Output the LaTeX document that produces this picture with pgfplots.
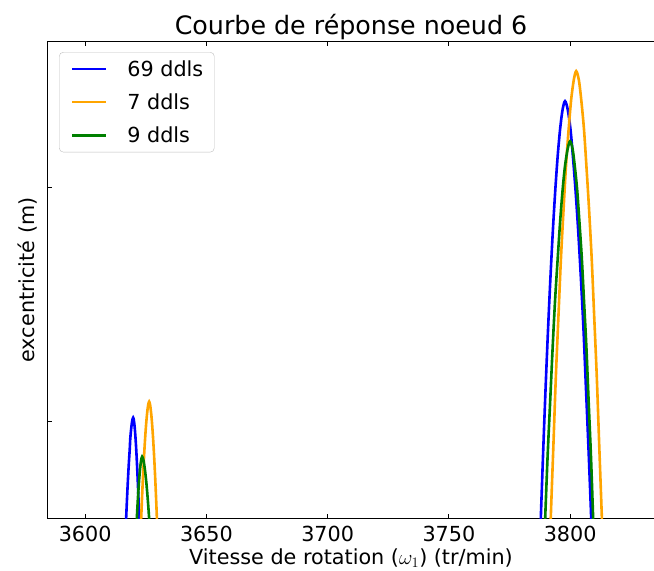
\documentclass[border=0pt]{standalone}
\usepackage{fontspec}
\setmainfont{DejaVu Sans}
\usepackage{pgfplots}
\pgfplotsset{compat=1.18}
\usetikzlibrary{calc}
\definecolor{mplblue}{RGB}{0,0,255}
\definecolor{mplorange}{RGB}{255,165,0}
\definecolor{mplgreen}{RGB}{0,128,0}
\begin{document}
\begin{tikzpicture}
\begin{axis}[name=ax, scale only axis, width=607pt, height=477pt,
  xmin=3584.3, xmax=3835, ymin=0, ymax=477,
  xtick={3600,3650,3700,3750,3800}, ytick={97,331}, yticklabels={},
  ytick pos=left,
  tick align=inside, major tick length=5pt,
  tick style={black, line width=0.8pt},
  axis line style={line width=1pt},
  /pgf/number format/assume math mode=true,
  /pgf/number format/1000 sep={},
  ticklabel style={font=\fontsize{20.7}{24}\selectfont},
  xticklabel style={yshift=-4pt},
  title={Courbe de réponse noeud 6},
  title style={font=\fontsize{25.3}{30}\selectfont, yshift=-8pt},
  xlabel={Vitesse de rotation ($\omega_1$) (tr/min)},
  ylabel={excentricité (m)},
  label style={font=\fontsize{20.7}{24}\selectfont},
  ylabel style={xshift=0pt, yshift=-1pt},
  legend style={at={(0,1)}, anchor=north west, xshift=12pt, yshift=-11pt,
    draw=black!25, rounded corners=4pt, font=\fontsize{20.7}{24}\selectfont,
    inner xsep=9pt, inner ysep=6pt, row sep=12pt},
  legend cell align=left,
  legend image code/.code={\draw[#1] (4pt,0pt) -- (38pt,0pt); \path[draw=none] (0pt,0pt) -- (57pt,0pt);},
  every axis plot/.append style={line width=2.6pt},
]
\addplot[mplblue, smooth] coordinates {(3786.9,-73.4)(3787.9,0)(3788.9,68.4)(3789.9,131.8)(3790.9,189.7)(3791.9,241.9)(3792.9,288.6)(3793.9,329.0)(3794.9,363.2)(3795.9,389.9)(3796.9,408.7)(3797.9,417)(3799.0,408.7)(3800.1,389.9)(3801.1,363.2)(3802.2,329.0)(3803.3,288.6)(3804.4,241.9)(3805.5,189.7)(3806.5,131.8)(3807.6,68.4)(3808.7,0)(3809.8,-73.4)};
\addlegendentry{69 ddls}
\addplot[mplorange, smooth] coordinates {(3791.0,-78.7)(3792.0,0)(3793.1,73.3)(3794.1,141.3)(3795.2,203.4)(3796.2,259.3)(3797.3,309.3)(3798.3,352.7)(3799.4,389.3)(3800.4,417.9)(3801.5,438.1)(3802.5,447)(3803.6,438.1)(3804.6,417.9)(3805.7,389.3)(3806.7,352.7)(3807.8,309.3)(3808.9,259.3)(3809.9,203.4)(3811.0,141.3)(3812.0,73.3)(3813.1,0)(3814.2,-78.7)};
\addlegendentry{7 ddls}
\addplot[mplgreen, smooth] coordinates {(3788.7,-66.4)(3789.7,0)(3790.7,61.8)(3791.8,119.1)(3792.8,171.5)(3793.8,218.7)(3794.9,260.9)(3795.9,297.5)(3796.9,328.4)(3797.9,352.5)(3799.0,369.5)(3800.0,377)(3801.0,369.5)(3801.9,352.5)(3802.9,328.4)(3803.8,297.5)(3804.8,260.9)(3805.7,218.7)(3806.7,171.5)(3807.6,119.1)(3808.6,61.8)(3809.5,0)(3810.5,-66.4)};
\addlegendentry{9 ddls}
\addplot[mplblue, smooth, forget plot] coordinates {(3616.6,-17.8)(3616.9,0)(3617.2,16.6)(3617.5,31.9)(3617.8,46.0)(3618.1,58.6)(3618.4,69.9)(3618.6,79.7)(3618.9,88.0)(3619.2,94.4)(3619.5,99.0)(3619.8,101)(3620.05,99.0)(3620.3,94.4)(3620.55,88.0)(3620.8,79.7)(3621.05,69.9)(3621.3,58.6)(3621.55,46.0)(3621.8,31.9)(3622.05,16.6)(3622.3,0)(3622.55,-17.8)};
\addplot[mplorange, smooth, forget plot] coordinates {(3622.77,-20.6)(3623.1,0)(3623.43,19.2)(3623.76,37.0)(3624.09,53.2)(3624.42,67.9)(3624.75,81.0)(3625.08,92.3)(3625.41,101.9)(3625.74,109.4)(3626.07,114.7)(3626.4,117)(3626.72,114.7)(3627.04,109.4)(3627.36,101.9)(3627.68,92.3)(3628.0,81.0)(3628.32,67.9)(3628.64,53.2)(3628.96,37.0)(3629.28,19.2)(3629.6,0)(3629.92,-20.6)};
\addplot[mplgreen, smooth, forget plot] coordinates {(3621.08,-10.9)(3621.3,0)(3621.52,10.2)(3621.74,19.6)(3621.96,28.2)(3622.18,36.0)(3622.4,42.9)(3622.62,48.9)(3622.84,54.0)(3623.06,58.0)(3623.28,60.8)(3623.5,62)(3623.79,60.8)(3624.08,58.0)(3624.37,54.0)(3624.66,48.9)(3624.95,42.9)(3625.24,36.0)(3625.53,28.2)(3625.82,19.6)(3626.11,10.2)(3626.4,0)(3626.69,-10.9)};
\end{axis}
\pgfresetboundingbox
\path ($(ax.south west)+(-47pt,-52pt)$) rectangle ($(ax.north east)+(-1pt,41pt)$);
\end{tikzpicture}
\end{document}
